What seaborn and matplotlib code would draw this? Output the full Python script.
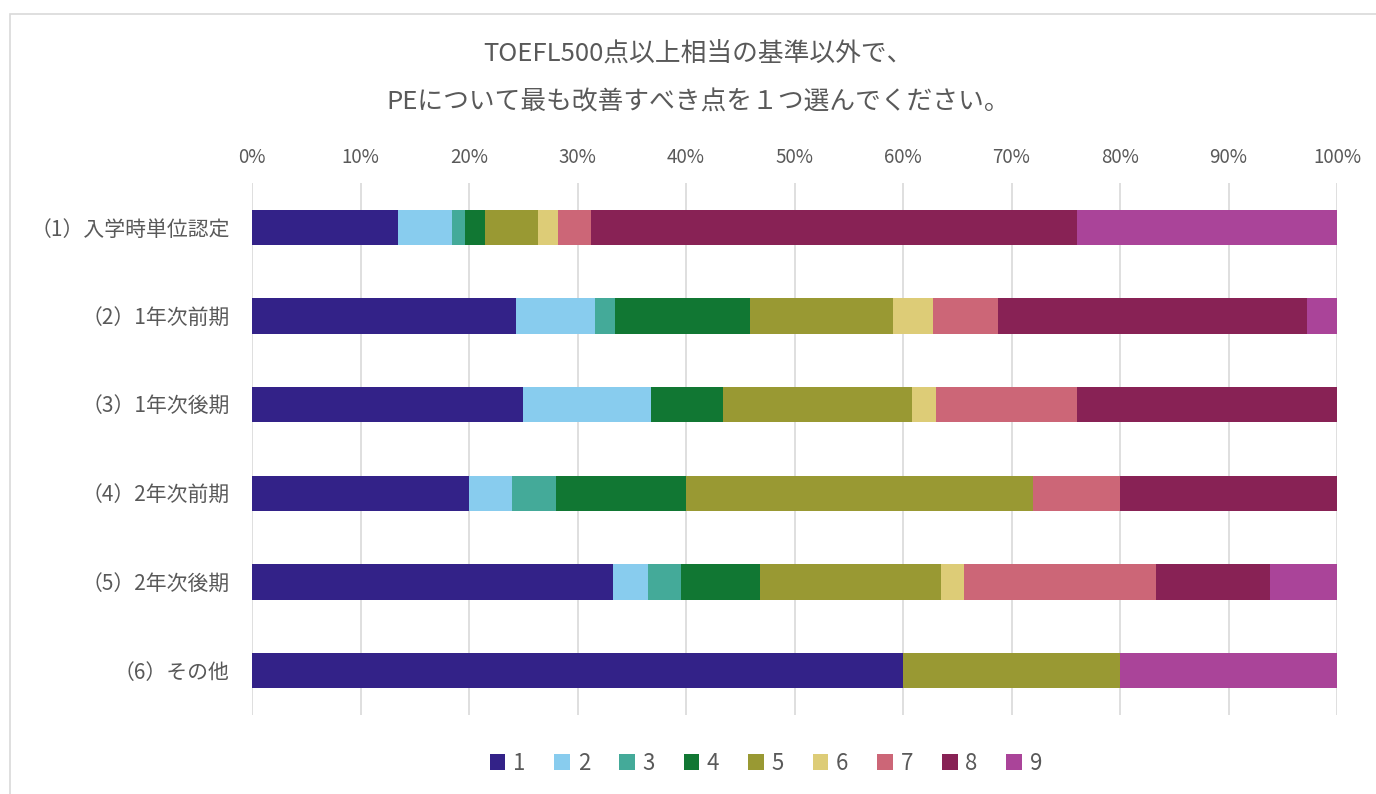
import matplotlib
matplotlib.use("Agg")
import matplotlib.pyplot as plt
import seaborn as sns
import numpy as np
import pandas as pd
from matplotlib.patches import Patch, Rectangle

categories = ["（1）入学時単位認定", "（2）1年次前期", "（3）1年次後期",
              "（4）2年次前期", "（5）2年次後期", "（6）その他"]
series_names = ["1", "2", "3", "4", "5", "6", "7", "8", "9"]
s1 = [13.5, 24.3, 25.0, 20.0, 33.3, 60.0]
s2 = [4.9, 7.3, 11.8, 4.0, 3.2, 0.0]
s3 = [1.2, 1.9, 0.0, 4.0, 3.0, 0.0]
s4 = [1.9, 12.4, 6.6, 12.0, 7.3, 0.0]
s5 = [4.9, 13.2, 17.4, 32.0, 16.7, 20.0]
s6 = [1.8, 3.7, 2.2, 0.0, 2.1, 0.0]
s7 = [3.0, 6.0, 13.0, 8.0, 17.7, 0.0]
s8 = [44.8, 28.4, 24.0, 20.0, 10.5, 0.0]
s9 = [24.0, 2.8, 0.0, 0.0, 6.2, 20.0]
colors = ["#332288", "#88CCEE", "#44AA99", "#117733", "#999933",
          "#DDCC77", "#CC6677", "#882255", "#AA4499"]
title_text = "TOEFL500点以上相当の基準以外で、\nPEについて最も改善すべき点を１つ選んでください。"

sns.set_theme(style="white")
plt.rcParams['font.family'] = ['Noto Sans CJK JP', 'DejaVu Sans']

data = np.array([s1, s2, s3, s4, s5, s6, s7, s8, s9])
totals = data.sum(axis=0)
pct = data / totals * 100
cum = np.cumsum(pct, axis=0)

fig = plt.figure(figsize=(13.76, 7.94), dpi=100)
ax = fig.add_axes([252/1376, 1-715/794, (1337-252)/1376, (715-183)/794])

for k in range(len(series_names) - 1, -1, -1):
    df = pd.DataFrame({"cat": categories, "val": cum[k]})
    sns.barplot(data=df, x="val", y="cat", color=colors[k], width=0.4,
                ax=ax, orient="h", saturation=1, zorder=3, linewidth=0)

ax.set_xlim(0, 100)
ax.set_ylim(5.5, -0.5)
ax.set_xticks(np.arange(0, 101, 10))
ax.set_xticklabels([f"{v}%" for v in range(0, 101, 10)])
ax.xaxis.tick_top()
ax.tick_params(axis="x", length=0, pad=11, labelsize=13.5, colors="#595959")
ax.tick_params(axis="y", length=0, pad=16, labelsize=15, colors="#595959")
ax.set_xlabel("")
ax.set_ylabel("")
ax.grid(axis="x", color="#d9d9d9", linewidth=1.2, zorder=0)
ax.set_axisbelow(True)
for sp in ax.spines.values():
    sp.set_visible(False)

fig.text(698/1376, 1-78/794, title_text, ha="center", va="center",
         fontsize=18.5, color="#595959", linespacing=2.15)

handles = [Patch(facecolor=c, edgecolor="none", label=n) for c, n in zip(colors, series_names)]
fig.legend(handles=handles, loc="center", bbox_to_anchor=(766/1376, 1-763/794), ncol=9,
           frameon=False, fontsize=16, handlelength=0.7, handleheight=0.7,
           handletextpad=0.35, columnspacing=1.3, labelcolor="#595959")

fig.patches.append(Rectangle((10/1376, -0.1), 1.2, (794-14)/794 + 0.1,
                             transform=fig.transFigure, fill=False,
                             edgecolor="#d9d9d9", linewidth=1.2))

fig.savefig("out.png", dpi=100, facecolor="white")
